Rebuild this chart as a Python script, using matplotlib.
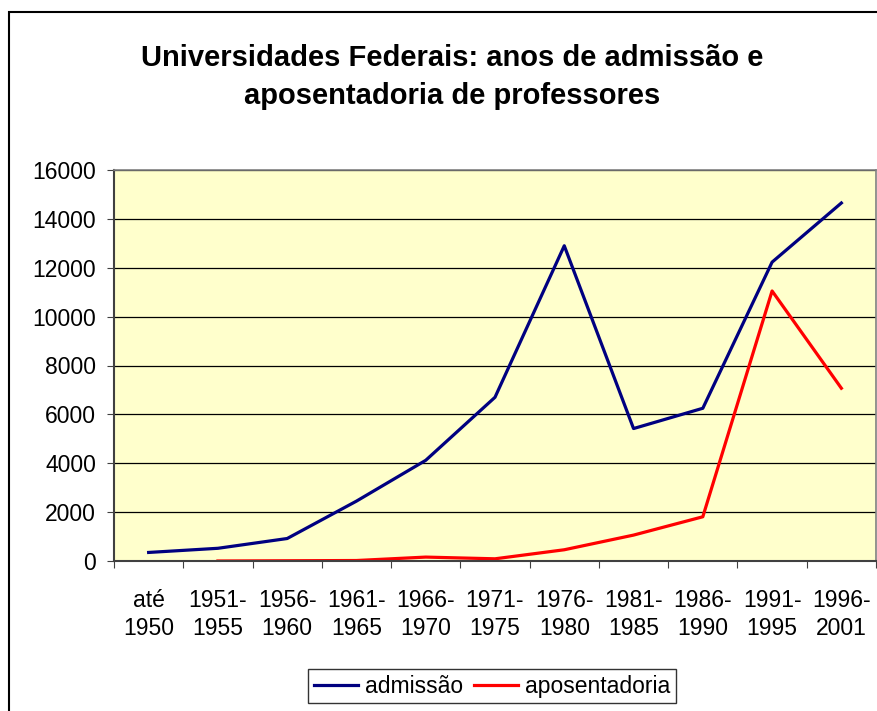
import matplotlib.pyplot as plt
from matplotlib.patches import Rectangle
import numpy as np

plt.rcParams['font.family'] = ['Liberation Sans', 'DejaVu Sans']

periodos = ['até\n1950', '1951-\n1955', '1956-\n1960', '1961-\n1965', '1966-\n1970',
            '1971-\n1975', '1976-\n1980', '1981-\n1985', '1986-\n1990', '1991-\n1995',
            '1996-\n2001']
admissao = [350, 520, 920, 2450, 4120, 6700, 12900, 5420, 6250, 12230, 14650]
# aposentadoria starts at the second period
aposentadoria = [0, 10, 20, 160, 90, 460, 1060, 1810, 11050, 7070]

fig = plt.figure(figsize=(8.77, 7.11), dpi=100)
W, H = 877, 711
ax = fig.add_axes([114 / W, 1 - 561 / H, (876 - 114) / W, (561 - 170) / H])
ax.set_facecolor('#FFFFCC')

x = np.arange(len(periodos))
ax.plot(x, admissao, color='#000080', lw=2.3, label='admissão')
ax.plot(x[1:], aposentadoria, color='#FF0000', lw=2.3, label='aposentadoria')

ax.set_xlim(-0.5, len(periodos) - 0.5)
ax.set_ylim(0, 16000)
ax.set_yticks(np.arange(0, 16001, 2000))
ax.grid(axis='y', color='black', lw=0.9)
ax.set_axisbelow(True)

# ticks at category boundaries, labels at centers
ax.set_xticks(np.arange(-0.5, len(periodos), 1))
ax.set_xticklabels([])
ax.set_xticks(x, minor=True)
ax.set_xticklabels(periodos, minor=True, fontsize=16.5, linespacing=1.3)
ax.tick_params(axis='x', which='minor', length=0, pad=20)
ax.tick_params(axis='x', which='major', length=5, color='#404040')
ax.tick_params(axis='y', length=5, color='#404040', labelsize=16.5, pad=8)

for s in ['top', 'right']:
    ax.spines[s].set_color('#808080')
    ax.spines[s].set_linewidth(1.2)
for s in ['left', 'bottom']:
    ax.spines[s].set_color('#404040')
    ax.spines[s].set_linewidth(1.5)

fig.text(452 / W, 1 - 77 / H, 'Universidades Federais: anos de admissão e\naposentadoria de professores',
         ha='center', va='center', fontsize=21, fontweight='bold', linespacing=1.5)

leg = fig.legend(loc='upper center', bbox_to_anchor=(492 / W, 1 - 669 / H), ncol=2,
                 fontsize=16.5, frameon=True, fancybox=False, edgecolor='black',
                 handlelength=1.9, handletextpad=0.3, columnspacing=0.5,
                 borderpad=0.25, borderaxespad=0)
leg.get_frame().set_linewidth(1.0)

# outer chart border (cut off on right and bottom)
fig.patches.append(Rectangle((9 / W, -0.1), 1.2, 1 - 12 / H + 0.1, transform=fig.transFigure,
                             fill=False, edgecolor='black', lw=1.5, clip_on=False))

fig.savefig('out.png', dpi=100)
